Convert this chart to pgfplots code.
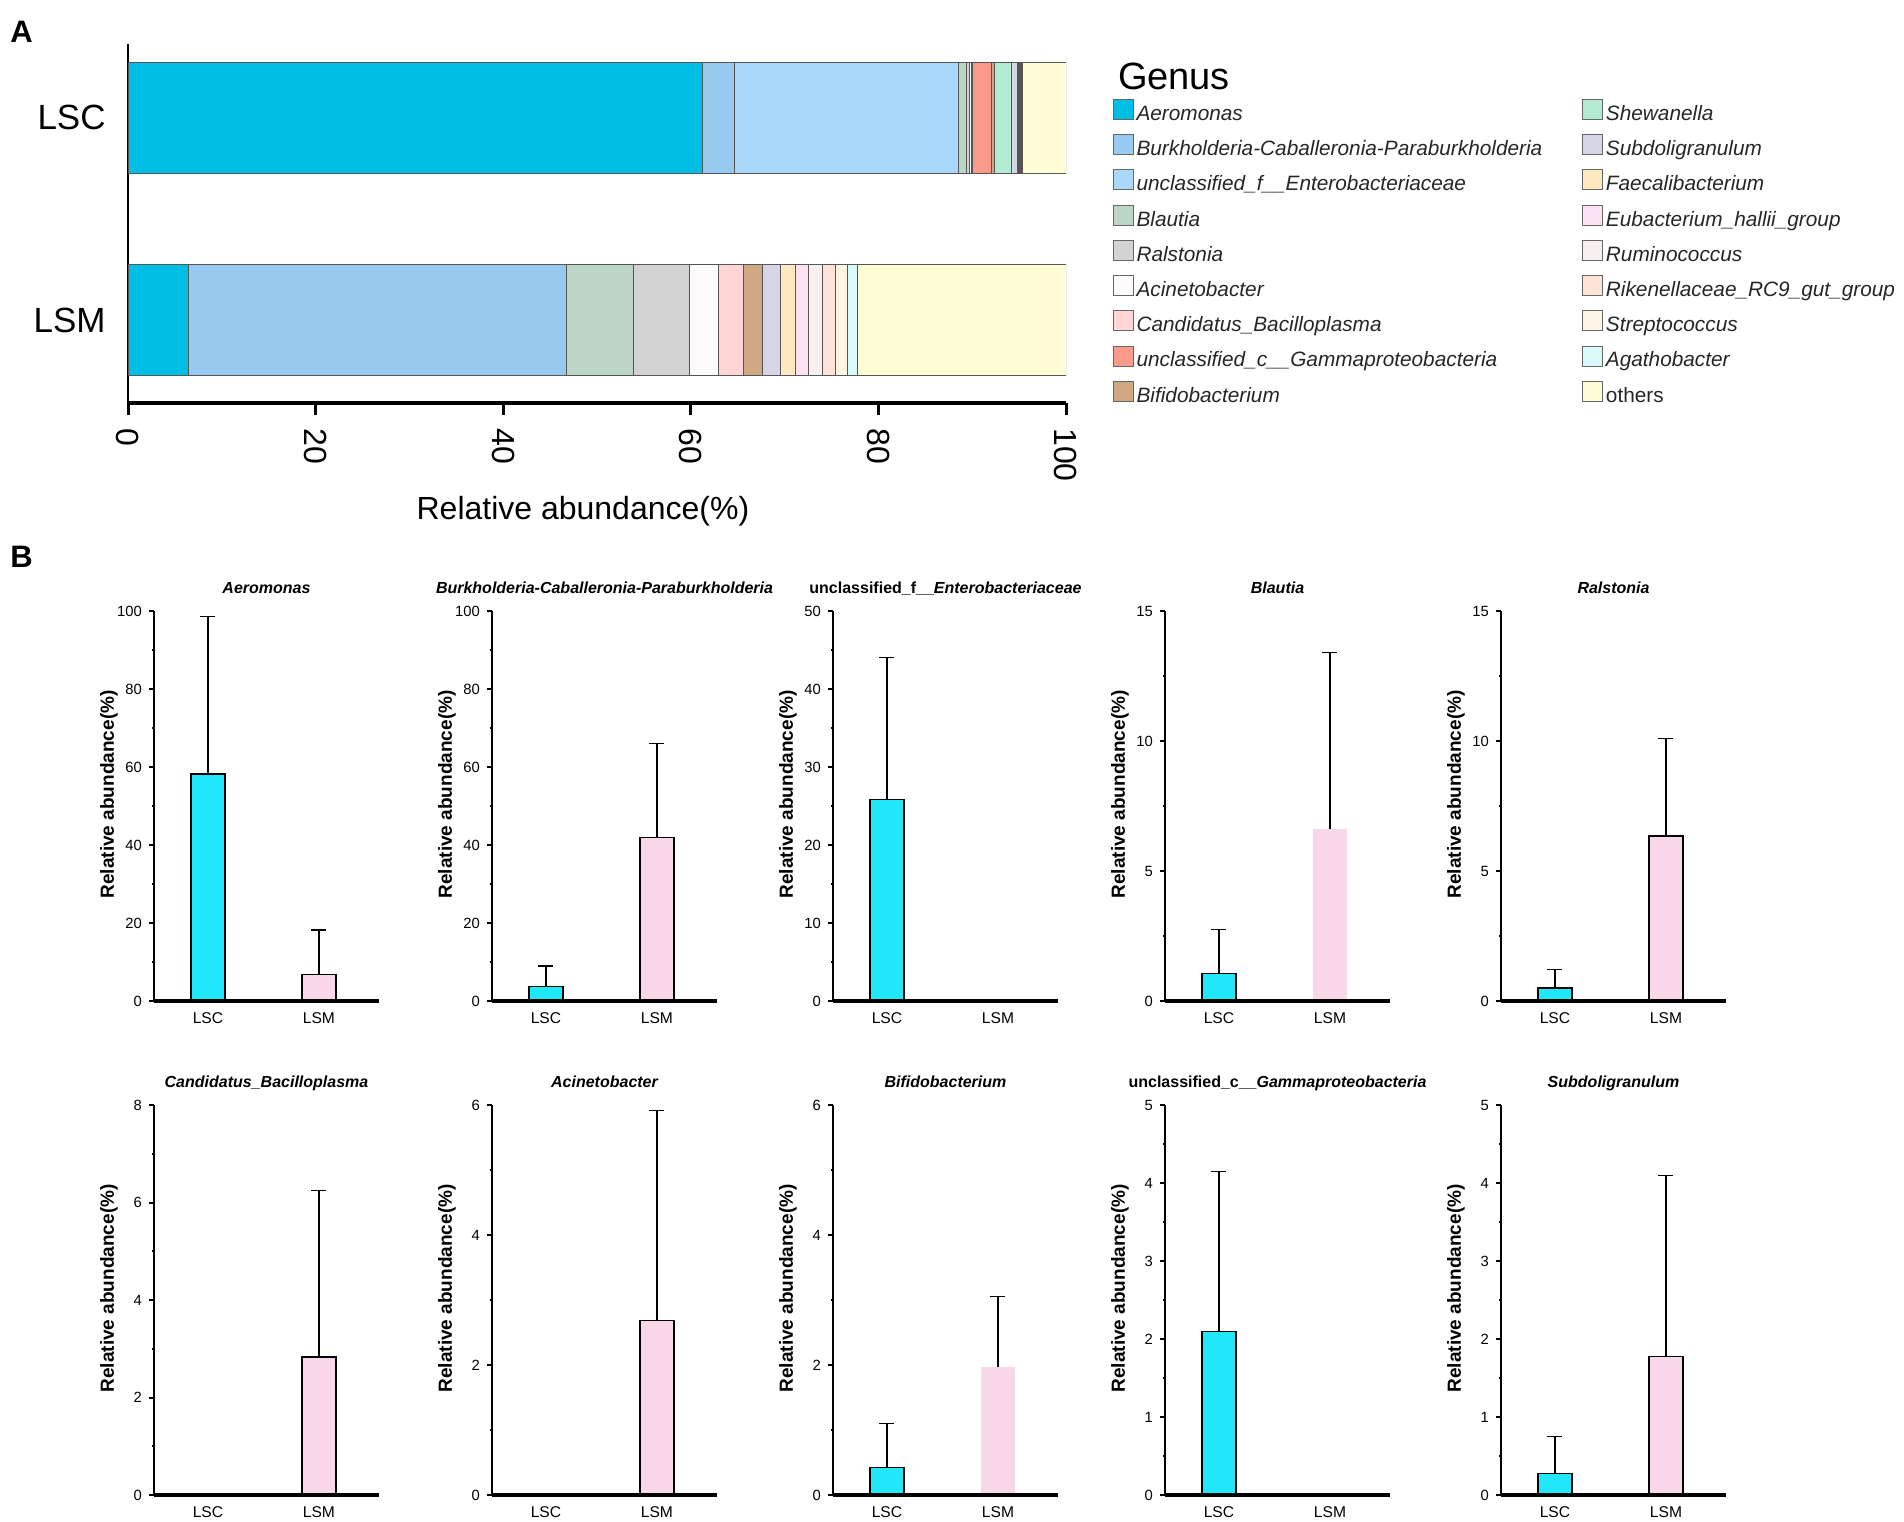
\documentclass[border=0pt]{standalone}
\usepackage{fontspec}
\setmainfont{Liberation Sans}
\usepackage{pgfplots}
\pgfplotsset{compat=1.18}

% genus colours, panel A
\definecolor{cAer}{RGB}{0,190,228}
\definecolor{cBur}{RGB}{152,201,239}
\definecolor{cEnt}{RGB}{169,216,250}
\definecolor{cBla}{RGB}{189,213,197}
\definecolor{cRal}{RGB}{211,211,211}
\definecolor{cAci}{RGB}{253,250,251}
\definecolor{cCan}{RGB}{255,213,213}
\definecolor{cGam}{RGB}{250,154,138}
\definecolor{cBif}{RGB}{207,167,131}
\definecolor{cShe}{RGB}{178,235,210}
\definecolor{cSub}{RGB}{214,213,230}
\definecolor{cFae}{RGB}{255,232,192}
\definecolor{cEub}{RGB}{253,226,245}
\definecolor{cRum}{RGB}{248,240,240}
\definecolor{cRik}{RGB}{253,226,214}
\definecolor{cStr}{RGB}{254,244,230}
\definecolor{cAga}{RGB}{216,250,250}
\definecolor{cOth}{RGB}{255,253,214}
\definecolor{edge}{RGB}{85,85,85}
% group colours, panel B
\definecolor{barC}{RGB}{32,232,250}
\definecolor{barM}{RGB}{248,216,232}

\pgfplotsset{
  every axis/.append style={/pgf/number format/assume math mode=true},
  seg/.style={fill=#1, draw=edge, line width=0.5pt, forget plot},
  sw/.style={fill=#1, draw=black!60, line width=0.5pt},
  genus/.style={
    legend image code/.code={\draw[##1] (0pt,-5pt) rectangle (10pt,5pt);},
    legend cell align=left,
    legend style={draw=none, fill=none, inner sep=0pt, outer sep=0pt,
      row sep=3.75pt, anchor=north west,
      font=\fontsize{10.4}{17.65}\selectfont\itshape\color{black!85},
      nodes={inner ysep=0pt, inner xsep=1.5pt}},
  },
  relab/.style={
    anchor=south west, scale only axis, width=112.5pt, height=195pt,
    ybar, bar width=0.306, bar shift=0pt,
    xmin=0.514, xmax=2.541, ymin=0,
    axis lines*=left, axis on top,
    x axis line style={line width=2pt},
    y axis line style={line width=1pt},
    xtick={1,2}, xticklabels={LSC,LSM},
    tick align=outside, major tick length=2.5pt, minor tick length=1.2pt,
    x tick style={draw=none}, y tick style={line width=1pt, black},
    minor y tick num=1,
    yticklabel style={font=\fontsize{7.4}{9}\selectfont},
    xticklabel style={font=\fontsize{7.8}{9}\selectfont},
    ylabel={Relative abundance(\%)},
    every axis y label/.style={at={(axis description cs:-0.2,0.53)},
      rotate=90, anchor=center, font=\bfseries\fontsize{9.5}{11}\selectfont},
    every axis title/.style={at={(axis description cs:0.5,1)}, anchor=base,
      yshift=8.6pt, font=\bfseries\itshape\fontsize{8}{10}\selectfont},
    error bars/y dir=plus, error bars/y explicit,
    error bars/error bar style={line width=0.6pt, black},
    error bars/error mark options={rotate=90, line width=0.6pt, mark size=3.75pt, black},
  },
  lsc/.style={fill=barC, draw=black, line width=0.6pt},
  lsm/.style={fill=barM, draw=black, line width=0.6pt},
  noerr/.style={error bars/y dir=none},
}

\begin{document}
\begin{tikzpicture}
\path[use as bounding box] (0,0) rectangle (952pt,-760.5pt);

\node[anchor=base west, font=\bfseries\fontsize{15.5}{18}\selectfont, inner sep=0pt] at (5pt,-21pt) {A};
\node[anchor=base west, font=\bfseries\fontsize{15.5}{18}\selectfont, inner sep=0pt] at (5pt,-283.5pt) {B};
\node[anchor=base west, font=\fontsize{19}{22}\selectfont, inner sep=0pt] at (558.8pt,-44.5pt) {Genus};

% ---------- A: stacked composition ----------
\begin{axis}[
  at={(64pt,-201.5pt)}, anchor=south west,
  scale only axis, width=469pt, height=179.5pt,
  xbar stacked, bar width=0.545,
  xmin=0, xmax=100, ymin=-0.411, ymax=1.366,
  axis lines*=left,
  x axis line style={line width=1.75pt},
  y axis line style={line width=0.9pt},
  xtick={0,20,...,100},
  ytick={0,1}, yticklabels={LSM,LSC},
  tick align=outside, major tick length=6pt,
  x tick style={line width=1.5pt, black},
  y tick style={draw=none},
  xticklabel style={yshift=-6.5pt, rotate=-90, anchor=west, inner sep=0pt, font=\fontsize{16}{18}\selectfont},
  yticklabel style={xshift=-5pt, inner sep=0pt, font=\fontsize{17.5}{20}\selectfont},
  xlabel={Relative abundance(\%)},
  every axis x label/.style={at={(axis description cs:0.485,-0.301)}, anchor=center,
    font=\fontsize{16}{18}\selectfont},
  genus,
  legend style={at={(axis description cs:1.0496,0.856)}},
]
% (LSC at y=1, LSM at y=0), per cent
\addplot[seg=cAer] coordinates {(61.2,1) (6.4,0)};
\addplot[seg=cBur] coordinates {(3.5,1) (40.4,0)};
\addplot[seg=cEnt] coordinates {(23.8,1) (0,0)};
\addplot[seg=cBla] coordinates {(0.9,1) (7.1,0)};
\addplot[seg=cRal] coordinates {(0.3,1) (6.0,0)};
\addplot[seg=cAci] coordinates {(0.2,1) (3.0,0)};
\addplot[seg=cCan] coordinates {(0.15,1) (2.7,0)};
\addplot[seg=cGam] coordinates {(2.05,1) (0,0)};
\addplot[seg=cBif] coordinates {(0.3,1) (2.0,0)};
\addplot[seg=cShe] coordinates {(1.8,1) (0,0)};
\addplot[seg=cSub] coordinates {(0.6,1) (2.0,0)};
\addplot[seg=cFae] coordinates {(0.1,1) (1.6,0)};
\addplot[seg=cEub] coordinates {(0.1,1) (1.4,0)};
\addplot[seg=cRum] coordinates {(0.1,1) (1.4,0)};
\addplot[seg=cRik] coordinates {(0.1,1) (1.4,0)};
\addplot[seg=cStr] coordinates {(0.1,1) (1.3,0)};
\addplot[seg=cAga] coordinates {(0.1,1) (1.1,0)};
\addplot[seg=cOth] coordinates {(4.6,1) (22.2,0)};

\addlegendimage{sw=cAer}\addlegendentry{\strut Aeromonas}
\addlegendimage{sw=cBur}\addlegendentry{\strut Burkholderia-Caballeronia-Paraburkholderia}
\addlegendimage{sw=cEnt}\addlegendentry{\strut unclassified\_f\_\_Enterobacteriaceae}
\addlegendimage{sw=cBla}\addlegendentry{\strut Blautia}
\addlegendimage{sw=cRal}\addlegendentry{\strut Ralstonia}
\addlegendimage{sw=cAci}\addlegendentry{\strut Acinetobacter}
\addlegendimage{sw=cCan}\addlegendentry{\strut Candidatus\_Bacilloplasma}
\addlegendimage{sw=cGam}\addlegendentry{\strut unclassified\_c\_\_Gammaproteobacteria}
\addlegendimage{sw=cBif}\addlegendentry{\strut Bifidobacterium}
\end{axis}

% second legend column
\begin{axis}[
  at={(64pt,-201.5pt)}, anchor=south west,
  scale only axis, width=469pt, height=179.5pt,
  hide axis, xmin=0, xmax=1, ymin=0, ymax=1,
  genus,
  legend style={at={(axis description cs:1.550,0.856)}},
]
\addlegendimage{sw=cShe}\addlegendentry{\strut Shewanella}
\addlegendimage{sw=cSub}\addlegendentry{\strut Subdoligranulum}
\addlegendimage{sw=cFae}\addlegendentry{\strut Faecalibacterium}
\addlegendimage{sw=cEub}\addlegendentry{\strut Eubacterium\_hallii\_group}
\addlegendimage{sw=cRum}\addlegendentry{\strut Ruminococcus}
\addlegendimage{sw=cRik}\addlegendentry{\strut Rikenellaceae\_RC9\_gut\_group}
\addlegendimage{sw=cStr}\addlegendentry{\strut Streptococcus}
\addlegendimage{sw=cAga}\addlegendentry{\strut Agathobacter}
\addlegendimage{sw=cOth}\addlegendentry{\strut\upshape others}
\end{axis}

% ---------- B: mean + SD per genus ----------
\begin{axis}[relab, at={(77pt,-500.5pt)}, ymax=100, ytick={0,20,...,100}, title={Aeromonas}]
\addplot[lsc] coordinates {(1,58.2) +- (0,40.3)};
\addplot[lsm] coordinates {(2,6.7) +- (0,11.5)};
\end{axis}
\begin{axis}[relab, at={(246pt,-500.5pt)}, ymax=100, ytick={0,20,...,100}, title={Burkholderia-Caballeronia-Paraburkholderia}]
\addplot[lsc] coordinates {(1,3.8) +- (0,5.2)};
\addplot[lsm] coordinates {(2,42.0) +- (0,24.0)};
\end{axis}
\begin{axis}[relab, at={(416.5pt,-500.5pt)}, ymax=50, ytick={0,10,...,50}, title={\upshape unclassified\_f\_\_\itshape Enterobacteriaceae}]
\addplot[lsc] coordinates {(1,25.8) +- (0,18.2)};
\addplot[lsm, noerr] coordinates {(2,0.1)};
\end{axis}
\begin{axis}[relab, at={(582.5pt,-500.5pt)}, ymax=15, ytick={0,5,10,15}, title={Blautia}]
\addplot[lsc] coordinates {(1,1.05) +- (0,1.7)};
\addplot[lsm, draw=none] coordinates {(2,6.6) +- (0,6.8)};
\end{axis}
\begin{axis}[relab, at={(750.5pt,-500.5pt)}, ymax=15, ytick={0,5,10,15}, title={Ralstonia}]
\addplot[lsc] coordinates {(1,0.5) +- (0,0.7)};
\addplot[lsm] coordinates {(2,6.35) +- (0,3.75)};
\end{axis}

\begin{axis}[relab, at={(77pt,-747.5pt)}, ymax=8, ytick={0,2,...,8}, title={Candidatus\_Bacilloplasma}]
\addplot[lsc, noerr] coordinates {(1,0)};
\addplot[lsm] coordinates {(2,2.83) +- (0,3.42)};
\end{axis}
\begin{axis}[relab, at={(246pt,-747.5pt)}, ymax=6, ytick={0,2,4,6}, title={Acinetobacter}]
\addplot[lsc, noerr] coordinates {(1,0)};
\addplot[lsm] coordinates {(2,2.68) +- (0,3.24)};
\end{axis}
\begin{axis}[relab, at={(416.5pt,-747.5pt)}, ymax=6, ytick={0,2,4,6}, title={Bifidobacterium}]
\addplot[lsc] coordinates {(1,0.42) +- (0,0.68)};
\addplot[lsm, draw=none] coordinates {(2,1.97) +- (0,1.08)};
\end{axis}
\begin{axis}[relab, at={(582.5pt,-747.5pt)}, ymax=5, ytick={0,1,...,5}, title={\upshape unclassified\_c\_\_\itshape Gammaproteobacteria}]
\addplot[lsc] coordinates {(1,2.1) +- (0,2.05)};
\addplot[lsm, noerr] coordinates {(2,0.02)};
\end{axis}
\begin{axis}[relab, at={(750.5pt,-747.5pt)}, ymax=5, ytick={0,1,...,5}, title={Subdoligranulum}]
\addplot[lsc] coordinates {(1,0.28) +- (0,0.47)};
\addplot[lsm] coordinates {(2,1.78) +- (0,2.32)};
\end{axis}
\end{tikzpicture}
\end{document}
